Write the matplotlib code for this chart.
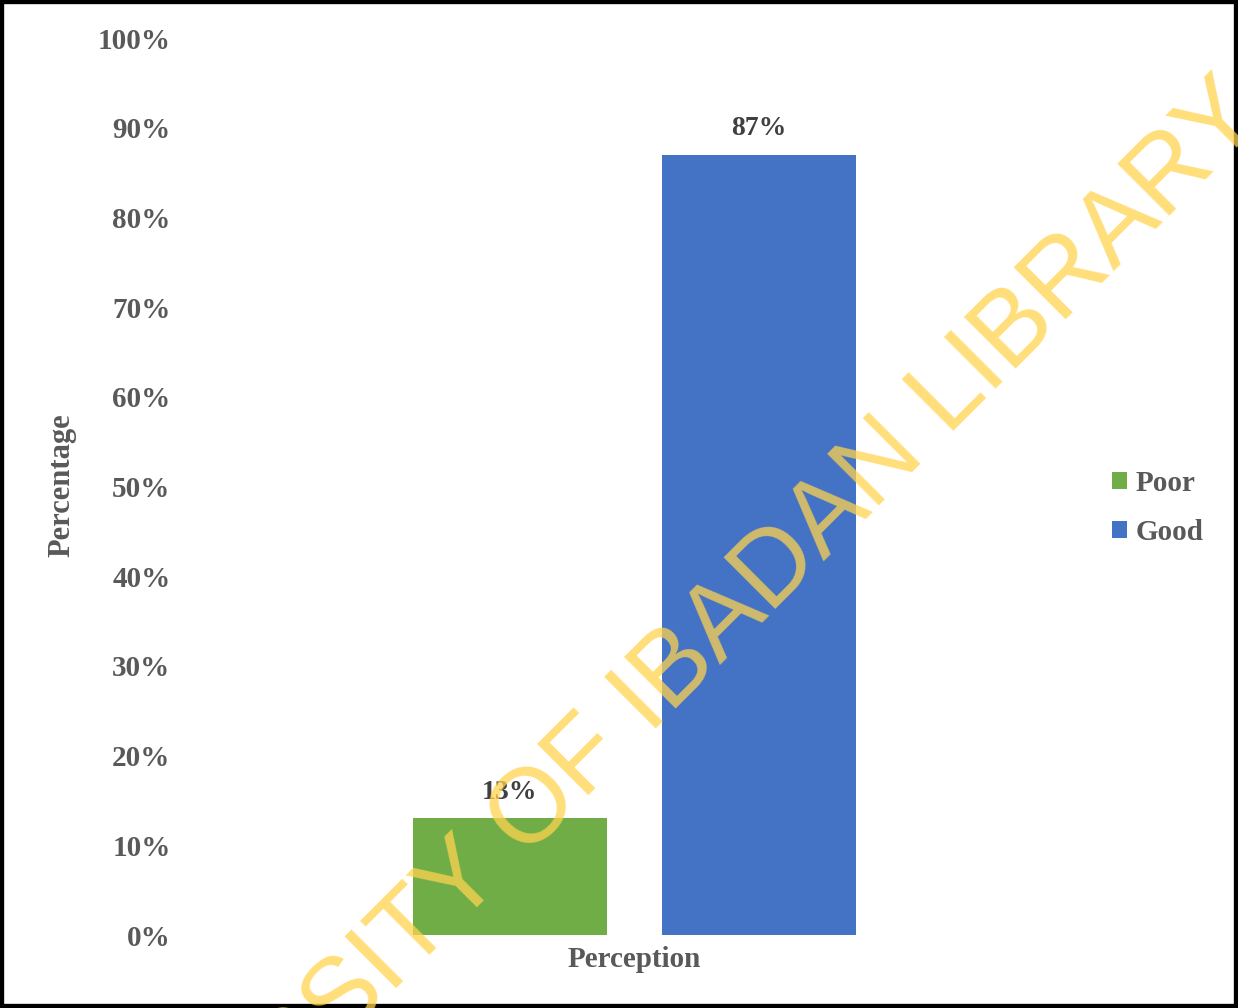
import matplotlib.pyplot as plt
from matplotlib.patches import Rectangle
from matplotlib.ticker import PercentFormatter

# data
categories = ['Poor', 'Good']
values = [0.13, 0.87]
bar_colors = ['#70AD47', '#4472C4']
x_pos = [-0.5, 0.5]
y_ticks = [0, 0.1, 0.2, 0.3, 0.4, 0.5, 0.6, 0.7, 0.8, 0.9, 1.0]

plt.rcParams['font.family'] = ['Liberation Serif', 'DejaVu Serif']
plt.rcParams['font.weight'] = 'bold'

fig = plt.figure(figsize=(12.38, 10.08), dpi=100)
ax = fig.add_axes([190/1238, 73/1008, 889/1238, 897/1008])

bars = ax.bar(x_pos, values, width=0.78, color=bar_colors, label=categories, zorder=2)
for b, v in zip(bars, values):
    ax.annotate('{:.0f}%'.format(v*100), (b.get_x()+b.get_width()/2, v),
                xytext=(0, 10), textcoords='offset points', ha='center', va='bottom',
                fontsize=20, fontweight='bold', color='#404040')

ax.set_xlim(-1.785, 1.785)
ax.set_ylim(0, 1)
ax.set_yticks(y_ticks)
ax.yaxis.set_major_formatter(PercentFormatter(1.0, decimals=0))
ax.set_xticks([])
ax.tick_params(axis='y', length=0, pad=14, labelsize=21, labelcolor='#595959')
for s in ax.spines.values():
    s.set_visible(False)

ax.set_ylabel('Percentage', fontsize=22, fontweight='bold', color='#595959')
ax.yaxis.set_label_coords(-0.128, 0.502)
ax.set_xlabel('Perception', fontsize=21, fontweight='bold', color='#595959')
ax.xaxis.set_label_coords(0.5, -0.012)

fig.legend(handles=bars, labels=categories, loc='center left',
           bbox_to_anchor=(1086/1238, 0.496), frameon=False, fontsize=21,
           handlelength=0.5, handleheight=0.5, handletextpad=0.3,
           labelspacing=0.75, labelcolor='#595959')

# watermark
fig.text(643/1238, 1-703/1008, 'UNIVERSITY OF IBADAN LIBRARY', fontsize=76,
         family='Liberation Sans', fontweight='normal', color='#FFD34E', alpha=0.75,
         rotation=45, rotation_mode='anchor', ha='center', va='center')

fig.patches.append(Rectangle((0, 0), 1, 1, transform=fig.transFigure, fill=False,
                             edgecolor='black', linewidth=6, figure=fig))

fig.savefig('out.png', dpi=100)
